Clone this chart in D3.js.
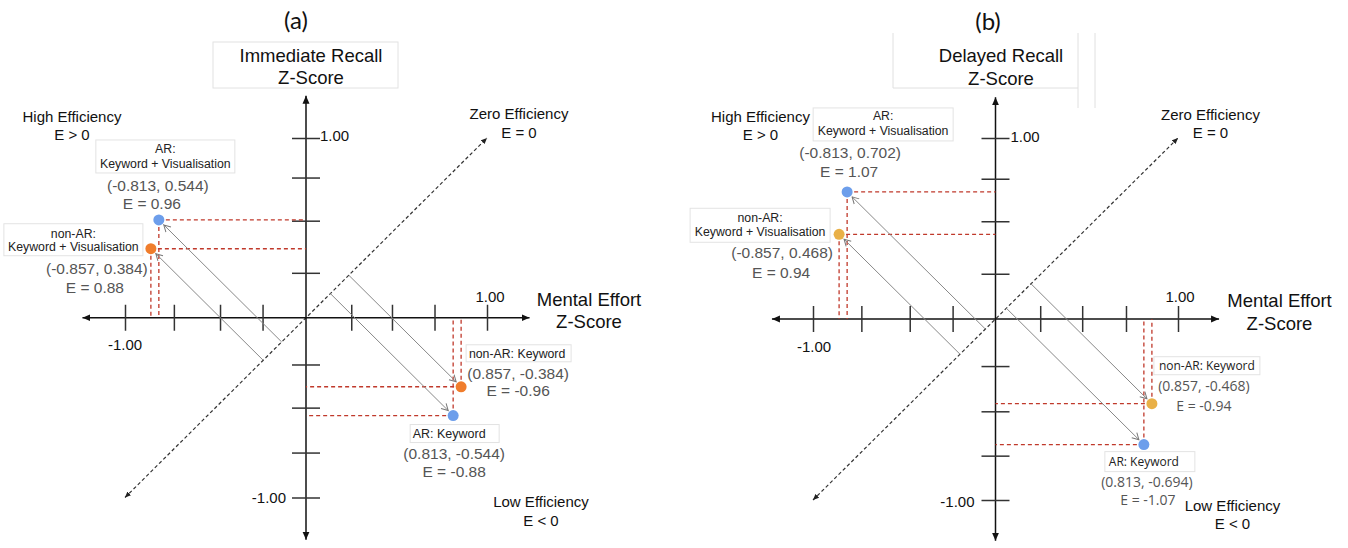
<!DOCTYPE html>
<html>
<head>
<meta charset="utf-8">
<script src="https://cdn.jsdelivr.net/npm/d3@7"></script>
<style>
  html, body { margin: 0; padding: 0; background: #fff; }
  svg { display: block; }
</style>
</head>
<body>
<svg id="chart" width="1348" height="548"></svg>
<script>
// ---------------- DATA ----------------
const effort = [-0.813, -0.857, 0.857, 0.813];             // Mental Effort Z-Score (x)
const recallImmediate = [0.544, 0.384, -0.384, -0.544];     // panel (a) y
const recallDelayed = [0.702, 0.468, -0.468, -0.694];       // panel (b) y
const efficiencyImmediate = [0.96, 0.88, -0.96, -0.88];     // printed E, panel (a)
const efficiencyDelayed = [1.07, 0.94, -0.94, -1.07];       // printed E, panel (b)
const groupLabels = [["AR:", "Keyword + Visualisation"], ["non-AR:", "Keyword + Visualisation"], ["non-AR: Keyword"], ["AR: Keyword"]];
const groupCondition = ["AR", "non-AR", "non-AR", "AR"];
const panelLetters = ["(a)", "(b)"];
const recallTitles = [["Immediate Recall", "Z-Score"], ["Delayed Recall", "Z-Score"]];
const effortTitle = ["Mental Effort", "Z-Score"];
const regionLabels = [["High Efficiency", "E > 0"], ["Zero Efficiency", "E = 0"], ["Low Efficiency", "E < 0"]];
const xTickValuesA = [-1, -0.73, -0.475, -0.24, 0.25, 0.475, 0.71, 1];
const yTickValuesA = [-1, -0.75, -0.5, -0.26, 0.25, 0.54, 0.78, 1];
const xTickValuesB = [-1, -0.735, -0.47, -0.235, 0.245, 0.475, 0.715, 1];
const yTickValuesB = [-1, -0.755, -0.51, -0.26, 0.25, 0.54, 0.775, 1];
const labelledTicks = [-1, 1];
const diagonalExtent = [-1, 1];

// ---------------- LAYOUT / STYLE ----------------
const FONT = "'Liberation Sans', Arial, sans-serif";
const FONT2 = "'Open Sans', sans-serif";
const colAR = "#6d9eeb";
const RED = "#c0392b";

const panels = [
  {
    ox: 306, oy: 318, xr: [-181, 181], yr: [179.5, -180], ext: 1.235,
    recall: recallImmediate, eff: efficiencyImmediate, xTicks: xTickValuesA, yTicks: yTickValuesA,
    nonAR: "#f07d2c",
    letter: { dx: -10, dy: -299 },
    titleBox: { x0: 213, x1: 398, y0: 42, y1: 88 },
    title: { dx: 5, ty: [55, 77] },
    region: [{ dx: -234, dy: [-201, -183] }, { dx: 213, dy: [-204, -185] }, { dx: 235, dy: [184, 203] }],
    effortT: { dx: 283, dy: [-18, 4] },
    tickLab: { x1: [3, -21], xm1: [0, 27], y1: [14, -3], ym1: [-20, 0] },
    fonts: [FONT, FONT, FONT, FONT], coordSize: [15.5, 15.5, 15.5, 15.5], nameSize: [12.3, 12.3, 12.3, 12.5],
    lab: [
      { box: [-63, -80, 139, 33], name: [6.5, [-71, -56]], coord: [-1, -34], e: [-7, -16] },
      { box: [-147, -25, 139, 32], name: [-77.5, [-15, -2]], coord: [-54, 20], e: [-56, 39] },
      { box: [5, -42, 105, 17], name: [56, [-33]], coord: [57, -13], e: [57, 4] },
      { box: [-43, 9, 89, 18], name: [-4, [18]], coord: [1, 38], e: [1, 56] }
    ]
  },
  {
    ox: 995, oy: 320, xr: [-182, 183], yr: [180, -182], ext: 1.225,
    recall: recallDelayed, eff: efficiencyDelayed, xTicks: xTickValuesB, yTicks: yTickValuesB,
    nonAR: "#e9b047",
    letter: { dx: -7, dy: -300 },
    titleBox: null,
    title: { dx: 6, ty: [55, 78] },
    region: [{ dx: -235, dy: [-203, -185] }, { dx: 215, dy: [-205, -187] }, { dx: 237, dy: [186, 204] }],
    effortT: { dx: 284, dy: [-19, 4] },
    tickLab: { x1: [2, -23], xm1: [1, 27], y1: [15, -2], ym1: [-21, 1] },
    fonts: [FONT, FONT, FONT2, FONT2], coordSize: [15.5, 15.5, 14, 14], nameSize: [12.3, 12.3, 12, 12],
    lab: [
      { box: [-34, -84, 140, 33], name: [36, [-76, -61]], coord: [3, -39], e: [2, -20] },
      { box: [-149, -26, 140, 34], name: [-79, [-16, -2]], coord: [-57, 18], e: [-58, 38] },
      { box: [2, -47, 106, 18], name: [55, [-38]], coord: [52, -18], e: [52, 2] },
      { box: [-39, 7, 90, 20], name: [0, [17]], coord: [3, 37], e: [4, 55] }
    ]
  }
];

const svg = d3.select("#chart");
const defs = svg.append("defs");
function marker(id, path, fill, stroke, refX, size) {
  defs.append("marker").attr("id", id)
    .attr("viewBox", `0 -${size} ${refX} ${2 * size}`)
    .attr("refX", refX).attr("refY", 0)
    .attr("markerWidth", refX).attr("markerHeight", 2 * size)
    .attr("markerUnits", "userSpaceOnUse")
    .attr("orient", "auto-start-reverse")
    .append("path").attr("d", path)
    .attr("fill", fill).attr("stroke", stroke).attr("stroke-width", 1);
}
marker("axArrow", "M0,-3.5L8,0L0,3.5Z", "#111", "none", 8, 4);
marker("diagArrow", "M0,-2.6L6,0L0,2.6Z", "#222", "none", 6, 3);
marker("grayArrow", "M0.5,-3.6L7,0L0.5,3.6", "none", "#777", 7.5, 4.5);

// plain ASCII hyphen-minus formatting
const fmt2 = v => v.toFixed(2);
const fmt3 = v => v.toFixed(3);

panels.forEach((P, pi) => {
  const x = d3.scaleLinear().domain([-1, 1]).range([P.ox + P.xr[0], P.ox + P.xr[1]]);
  const y = d3.scaleLinear().domain([-1, 1]).range([P.oy + P.yr[0], P.oy + P.yr[1]]);
  const g = svg.append("g");

  // panel letter
  g.append("text").attr("x", P.ox + P.letter.dx).attr("y", P.oy + P.letter.dy)
    .attr("text-anchor", "middle").attr("dominant-baseline", "central")
    .style("font-family", "Lato, 'Open Sans', sans-serif").style("font-size", "24px").attr("fill", "#111")
    .text(panelLetters[pi]);

  // recall title box
  if (P.titleBox) {
    const b = P.titleBox;
    g.append("rect").attr("x", b.x0).attr("y", b.y0).attr("width", b.x1 - b.x0).attr("height", b.y1 - b.y0)
      .attr("fill", "#fff").attr("stroke", "#e2e2e2").attr("stroke-width", 1);
  } else {
    const lines = [[893, 33, 893, 88], [893, 88, 1078, 88], [1078, 33, 1078, 108], [1095, 33, 1095, 108]];
    g.selectAll(null).data(lines).join("line")
      .attr("x1", d => d[0]).attr("y1", d => d[1]).attr("x2", d => d[2]).attr("y2", d => d[3])
      .attr("stroke", "#e0e0e0").attr("stroke-width", 1);
  }
  recallTitles[pi].forEach((t, i) => {
    g.append("text").attr("x", P.ox + P.title.dx).attr("y", P.title.ty[i]).attr("text-anchor", "middle")
      .attr("dominant-baseline", "central").style("font-family", FONT).style("font-size", "18.5px")
      .attr("fill", "#111").text(t);
  });

  // zero-efficiency diagonal
  g.append("line")
    .attr("x1", x(diagonalExtent[0])).attr("y1", y(diagonalExtent[0]))
    .attr("x2", x(diagonalExtent[1])).attr("y2", y(diagonalExtent[1]))
    .attr("stroke", "#333").attr("stroke-width", 1.2).attr("stroke-dasharray", "3.5,2.5")
    .attr("marker-start", "url(#diagArrow)").attr("marker-end", "url(#diagArrow)");

  // axes lines with arrows
  g.append("line").attr("x1", x(-P.ext)).attr("x2", x(P.ext)).attr("y1", y(0)).attr("y2", y(0))
    .attr("stroke", "#111").attr("stroke-width", 1.5)
    .attr("marker-start", "url(#axArrow)").attr("marker-end", "url(#axArrow)");
  g.append("line").attr("x1", x(0)).attr("x2", x(0)).attr("y1", y(P.ext)).attr("y2", y(-P.ext))
    .attr("stroke", "#111").attr("stroke-width", 1.5)
    .attr("marker-start", "url(#axArrow)").attr("marker-end", "url(#axArrow)");

  // ticks via d3 axes
  const xa = g.append("g").attr("transform", `translate(0,${y(0) - 13})`)
    .call(d3.axisBottom(x).tickValues(P.xTicks).tickSize(26).tickFormat(""));
  const ya = g.append("g").attr("transform", `translate(${x(0) - 14},0)`)
    .call(d3.axisRight(y).tickValues(P.yTicks).tickSize(28).tickFormat(""));
  [xa, ya].forEach(a => {
    a.select(".domain").remove();
    a.selectAll(".tick line").attr("stroke", "#333").attr("stroke-width", 1.5);
  });

  // tick labels
  const tl = P.tickLab;
  labelledTicks.forEach(v => {
    const o = v > 0 ? tl.x1 : tl.xm1;
    g.append("text").attr("x", x(v) + o[0]).attr("y", y(0) + o[1]).attr("text-anchor", "middle")
      .attr("dominant-baseline", "central").style("font-family", FONT).style("font-size", "15px")
      .attr("fill", "#111").text(fmt2(v));
    const oy = v > 0 ? tl.y1 : tl.ym1;
    g.append("text").attr("x", x(0) + oy[0]).attr("y", y(v) + oy[1])
      .attr("text-anchor", v > 0 ? "start" : "end")
      .attr("dominant-baseline", "central").style("font-family", FONT).style("font-size", "15px")
      .attr("fill", "#111").text(fmt2(v));
  });

  // effort axis title
  effortTitle.forEach((t, i) => {
    g.append("text").attr("x", x(0) + P.effortT.dx).attr("y", y(0) + P.effortT.dy[i])
      .attr("text-anchor", "middle").attr("dominant-baseline", "central")
      .style("font-family", FONT).style("font-size", "18.5px").attr("fill", "#111").text(t);
  });

  // region labels
  regionLabels.forEach((r, ri) => {
    r.forEach((t, i) => {
      g.append("text").attr("x", x(0) + P.region[ri].dx).attr("y", y(0) + P.region[ri].dy[i])
        .attr("text-anchor", "middle").attr("dominant-baseline", "central")
        .style("font-family", FONT).style("font-size", "15px").attr("fill", "#111").text(t);
    });
  });

  const pts = effort.map((e, i) => ({ i, ex: e, ry: P.recall[i], E: P.eff[i] }));

  // red dashed guides
  pts.forEach(d => {
    g.append("line").attr("x1", x(d.ex)).attr("y1", y(d.ry)).attr("x2", x(0)).attr("y2", y(d.ry))
      .attr("stroke", RED).attr("stroke-width", 1.3).attr("stroke-dasharray", "4,3");
    g.append("line").attr("x1", x(d.ex)).attr("y1", y(d.ry)).attr("x2", x(d.ex)).attr("y2", y(0))
      .attr("stroke", RED).attr("stroke-width", 1.3).attr("stroke-dasharray", "4,3");
  });

  // perpendicular arrows from zero-efficiency line to points
  pts.forEach(d => {
    const f = (d.ex + d.ry) / 2;
    const x0 = x(f), y0 = y(f), x1 = x(d.ex), y1 = y(d.ry);
    const len = Math.hypot(x1 - x0, y1 - y0), k = (len - 6.5) / len;
    g.append("line").attr("x1", x0).attr("y1", y0)
      .attr("x2", x0 + (x1 - x0) * k).attr("y2", y0 + (y1 - y0) * k)
      .attr("stroke", "#888").attr("stroke-width", 1)
      .attr("marker-end", "url(#grayArrow)");
  });

  // labels
  pts.forEach(d => {
    const L = P.lab[d.i];
    const px = x(d.ex), py = y(d.ry);
    g.append("rect").attr("x", px + L.box[0]).attr("y", py + L.box[1])
      .attr("width", L.box[2]).attr("height", L.box[3])
      .attr("fill", "#fff").attr("stroke", "#e3e3e3").attr("stroke-width", 1);
    groupLabels[d.i].forEach((t, li) => {
      g.append("text").attr("x", px + L.name[0]).attr("y", py + L.name[1][li])
        .attr("text-anchor", "middle").attr("dominant-baseline", "central")
        .style("font-family", P.fonts[d.i]).style("font-size", P.nameSize[d.i] + "px")
        .attr("fill", "#222").text(t);
    });
    g.append("text").attr("x", px + L.coord[0]).attr("y", py + L.coord[1])
      .attr("text-anchor", "middle").attr("dominant-baseline", "central")
      .style("font-family", P.fonts[d.i]).style("font-size", P.coordSize[d.i] + "px")
      .attr("fill", "#555").text(`(${fmt3(d.ex)}, ${fmt3(d.ry)})`);
    g.append("text").attr("x", px + L.e[0]).attr("y", py + L.e[1])
      .attr("text-anchor", "middle").attr("dominant-baseline", "central")
      .style("font-family", P.fonts[d.i]).style("font-size", P.coordSize[d.i] + "px")
      .attr("fill", "#555").text(`E = ${fmt2(d.E)}`);
  });

  // points
  g.selectAll("circle.pt").data(pts).join("circle").attr("class", "pt")
    .attr("cx", d => x(d.ex)).attr("cy", d => y(d.ry)).attr("r", 5.5)
    .attr("fill", d => groupCondition[d.i] === "AR" ? colAR : P.nonAR);
});
</script>
</body>
</html>
